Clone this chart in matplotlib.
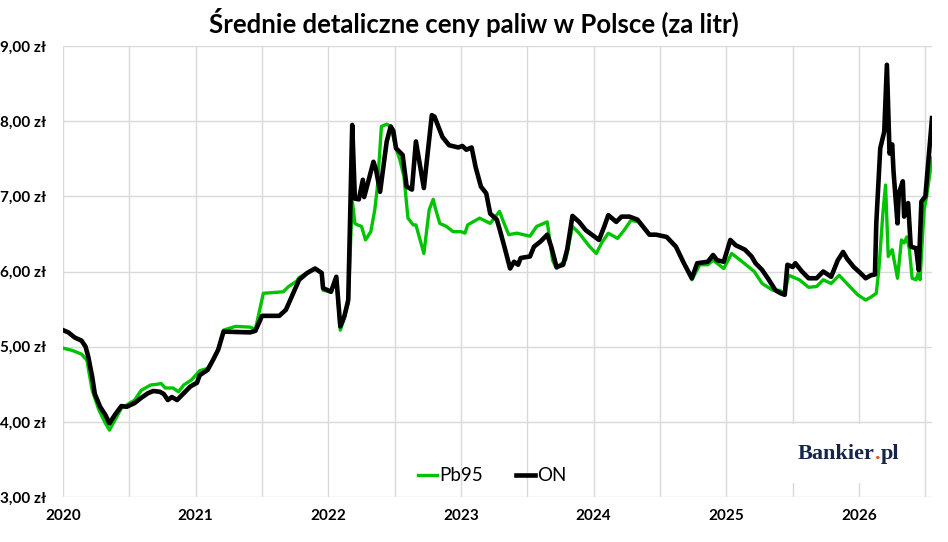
import matplotlib
matplotlib.use("Agg")
import matplotlib.pyplot as plt
import numpy as np
from matplotlib.patches import Rectangle
from matplotlib.ticker import MultipleLocator

# czas w latach liczony od 2020-01-01
pb95_lata = [0.00, 0.07, 0.14, 0.18, 0.22, 0.27, 0.32, 0.35, 0.40, 0.44,
             0.54, 0.59, 0.66, 0.71, 0.74, 0.77, 0.83, 0.87, 0.91, 0.97,
             1.03, 1.09, 1.13, 1.17, 1.21, 1.30, 1.41, 1.45, 1.51, 1.66,
             1.70, 1.76, 1.78, 1.84, 1.90, 1.95, 1.96, 2.02, 2.06, 2.09,
             2.12, 2.15, 2.18, 2.20, 2.22, 2.25, 2.28, 2.32, 2.35, 2.37,
             2.40, 2.44, 2.47, 2.51, 2.54, 2.57, 2.60, 2.64, 2.66, 2.72, 2.76,
             2.79, 2.81, 2.84, 2.89, 2.94, 3.00, 3.03, 3.05, 3.09, 3.14,
             3.22, 3.29, 3.32, 3.36, 3.42, 3.52, 3.57, 3.65, 3.69, 3.72,
             3.79, 3.84, 3.89, 3.97, 4.02, 4.06, 4.11, 4.18, 4.23, 4.28,
             4.34, 4.42, 4.47, 4.55, 4.62, 4.68, 4.74, 4.80, 4.86, 4.90,
             4.98, 5.04, 5.12, 5.21, 5.27, 5.35, 5.40, 5.44, 5.47, 5.55,
             5.62, 5.68, 5.73, 5.79, 5.85, 5.93, 5.99, 6.05, 6.09, 6.13,
             6.15, 6.18, 6.20, 6.22, 6.25, 6.29, 6.32, 6.34, 6.36, 6.38,
             6.40, 6.43, 6.45, 6.46, 6.49, 6.51, 6.55]
pb95_ceny = [4.98, 4.95, 4.90, 4.82, 4.42, 4.16, 3.98, 3.89, 4.05, 4.18,
             4.29, 4.42, 4.49, 4.50, 4.51, 4.45, 4.45, 4.40, 4.49, 4.56,
             4.68, 4.71, 4.82, 4.97, 5.22, 5.27, 5.26, 5.23, 5.71, 5.73,
             5.80, 5.87, 5.92, 5.98, 6.04, 5.98, 5.75, 5.73, 5.91, 5.22,
             5.38, 5.58, 6.95, 6.64, 6.62, 6.60, 6.42, 6.53, 6.82, 7.13,
             7.93, 7.96, 7.93, 7.64, 7.48, 7.26, 6.71, 6.62, 6.62, 6.24, 6.82,
             6.96, 6.82, 6.64, 6.60, 6.53, 6.53, 6.51, 6.62, 6.66, 6.71,
             6.64, 6.80, 6.66, 6.49, 6.51, 6.47, 6.60, 6.66, 6.15, 6.04,
             6.16, 6.60, 6.51, 6.33, 6.24, 6.38, 6.51, 6.44, 6.55, 6.68,
             6.66, 6.49, 6.49, 6.46, 6.33, 6.11, 5.89, 6.09, 6.09, 6.15,
             6.04, 6.24, 6.13, 6.00, 5.84, 5.75, 5.75, 5.71, 5.95, 5.89,
             5.79, 5.80, 5.89, 5.84, 5.95, 5.80, 5.69, 5.62, 5.66, 5.71,
             6.04, 6.78, 7.15, 6.20, 6.29, 5.91, 6.42, 6.38, 6.46, 6.29,
             5.91, 5.89, 6.00, 5.89, 6.82, 7.00, 7.51]

on_lata = [0.00, 0.04, 0.09, 0.14, 0.17, 0.19, 0.22, 0.24, 0.28, 0.32,
           0.35, 0.39, 0.44, 0.48, 0.54, 0.59, 0.64, 0.68, 0.73, 0.76,
           0.79, 0.82, 0.86, 0.91, 0.96, 1.01, 1.03, 1.09, 1.13, 1.17,
           1.21, 1.41, 1.45, 1.50, 1.63, 1.68, 1.73, 1.78, 1.84, 1.90,
           1.95, 1.96, 2.02, 2.06, 2.09, 2.12, 2.15, 2.18, 2.20, 2.23,
           2.26, 2.27, 2.34, 2.36, 2.39, 2.44, 2.47, 2.49, 2.51, 2.56,
           2.59, 2.63, 2.66, 2.72, 2.78, 2.80, 2.86, 2.91, 2.98, 3.01,
           3.04, 3.08, 3.11, 3.15, 3.19, 3.22, 3.27, 3.29, 3.33, 3.37,
           3.40, 3.43, 3.45, 3.52, 3.55, 3.60, 3.65, 3.68, 3.72, 3.77,
           3.80, 3.84, 3.89, 3.94, 4.01, 4.04, 4.08, 4.11, 4.17, 4.21,
           4.27, 4.33, 4.42, 4.47, 4.55, 4.62, 4.68, 4.74, 4.78, 4.86,
           4.90, 4.93, 4.98, 5.03, 5.07, 5.14, 5.19, 5.22, 5.27, 5.32,
           5.37, 5.41, 5.44, 5.46, 5.50, 5.52, 5.57, 5.62, 5.68, 5.73,
           5.79, 5.84, 5.88, 5.91, 5.96, 6.01, 6.05, 6.09, 6.12, 6.13,
           6.16, 6.19, 6.21, 6.23, 6.25, 6.26, 6.29, 6.30, 6.33, 6.34,
           6.37, 6.39, 6.43, 6.45, 6.47, 6.50, 6.55]
on_ceny = [5.22, 5.19, 5.12, 5.08, 5.00, 4.87, 4.60, 4.37, 4.20, 4.09,
           3.98, 4.09, 4.21, 4.20, 4.25, 4.32, 4.38, 4.41, 4.40, 4.37,
           4.29, 4.33, 4.29, 4.38, 4.47, 4.52, 4.62, 4.69, 4.82, 4.96,
           5.20, 5.19, 5.21, 5.41, 5.41, 5.49, 5.69, 5.89, 5.98, 6.04,
           5.98, 5.78, 5.73, 5.93, 5.27, 5.40, 5.62, 7.95, 6.97, 6.96,
           7.22, 6.99, 7.46, 7.35, 7.06, 7.73, 7.93, 7.87, 7.64, 7.55,
           7.13, 7.09, 7.73, 7.11, 8.08, 8.06, 7.79, 7.68, 7.65, 7.67,
           7.62, 7.65, 7.39, 7.13, 7.04, 6.77, 6.69, 6.57, 6.31, 6.04,
           6.13, 6.09, 6.18, 6.20, 6.33, 6.40, 6.49, 6.33, 6.06, 6.09,
           6.29, 6.74, 6.66, 6.55, 6.46, 6.42, 6.60, 6.75, 6.66, 6.73,
           6.73, 6.69, 6.49, 6.49, 6.46, 6.33, 6.11, 5.91, 6.11, 6.13,
           6.22, 6.15, 6.13, 6.42, 6.35, 6.29, 6.20, 6.11, 6.02, 5.89,
           5.75, 5.71, 5.69, 6.09, 6.06, 6.11, 6.00, 5.91, 5.91, 6.00,
           5.93, 6.15, 6.26, 6.17, 6.06, 5.98, 5.91, 5.95, 5.96, 6.64,
           7.64, 7.86, 8.75, 7.57, 7.69, 7.33, 6.64, 7.04, 7.20, 6.73,
           6.91, 6.33, 6.31, 6.02, 6.93, 7.00, 8.04]

lata_etykiety = [2020, 2021, 2022, 2023, 2024, 2025, 2026]
ceny_ticki = [3, 4, 5, 6, 7, 8, 9]

plt.rcParams['font.family'] = ['Lato', 'DejaVu Sans']

fig = plt.figure(figsize=(9.48, 5.42), dpi=100)
ax = fig.add_axes([63 / 948, 45 / 542, 869 / 948, 451 / 542])

ax.plot(2020 + np.array(pb95_lata), pb95_ceny, color='#00c400', lw=2.4,
        label='Pb95', solid_joinstyle='round')
ax.plot(2020 + np.array(on_lata), on_ceny, color='black', lw=3.3,
        label='ON', solid_joinstyle='round')

ax.set_xlim(2020, 2026.55)
ax.set_ylim(3, 9)
ax.set_xticks(lata_etykiety, [str(r) for r in lata_etykiety], fontweight='bold')
ax.xaxis.set_minor_locator(MultipleLocator(0.5))
ax.set_yticks(ceny_ticki, ['%d,00 zł' % c for c in ceny_ticki], fontweight='bold')
ax.tick_params(axis='x', which='both', length=0, pad=9, labelsize=11)
ax.tick_params(axis='y', length=0, pad=12, labelsize=11)
ax.set_axisbelow(True)
ax.grid(axis='x', which='both', color='#d9d9d9', lw=1)
ax.grid(axis='y', color='#d9d9d9', lw=1)
for s in ax.spines.values():
    s.set_visible(False)

ax.legend(loc='center', bbox_to_anchor=(0.494, 0.047), ncol=2, frameon=False,
          fontsize=13.5, handlelength=1.0, handletextpad=0.1, columnspacing=1.8)

fig.suptitle('Średnie detaliczne ceny paliw w Polsce (za litr)', x=0.5, y=0.958,
             va='center', fontsize=18.5, fontweight='bold')

# logo w prawym dolnym rogu, kropka w kolorze pomaranczowym
fig.patches.append(Rectangle((776 / 948, 59 / 542), 140 / 948, 59 / 542,
                             transform=fig.transFigure, facecolor='white',
                             edgecolor='none', zorder=1))
logo_font = dict(family='Liberation Serif', fontweight='bold', fontsize=16)
r = fig.canvas.get_renderer()


def szer(s):
    t = fig.text(0, 0, s, **logo_font)
    w = t.get_window_extent(r).width
    t.remove()
    return w


x = 847 - szer('Bankier.pl') / 2
y_base = 542 - 459
for czesc, kolor in [('Bankier', '#15264a'), ('.', '#e8501c'), ('pl', '#15264a')]:
    fig.text(x / 948, y_base / 542, czesc, color=kolor, ha='left',
             va='baseline', zorder=2, **logo_font)
    x += szer(czesc) + 0.5

fig.savefig('out.png', dpi=100)
